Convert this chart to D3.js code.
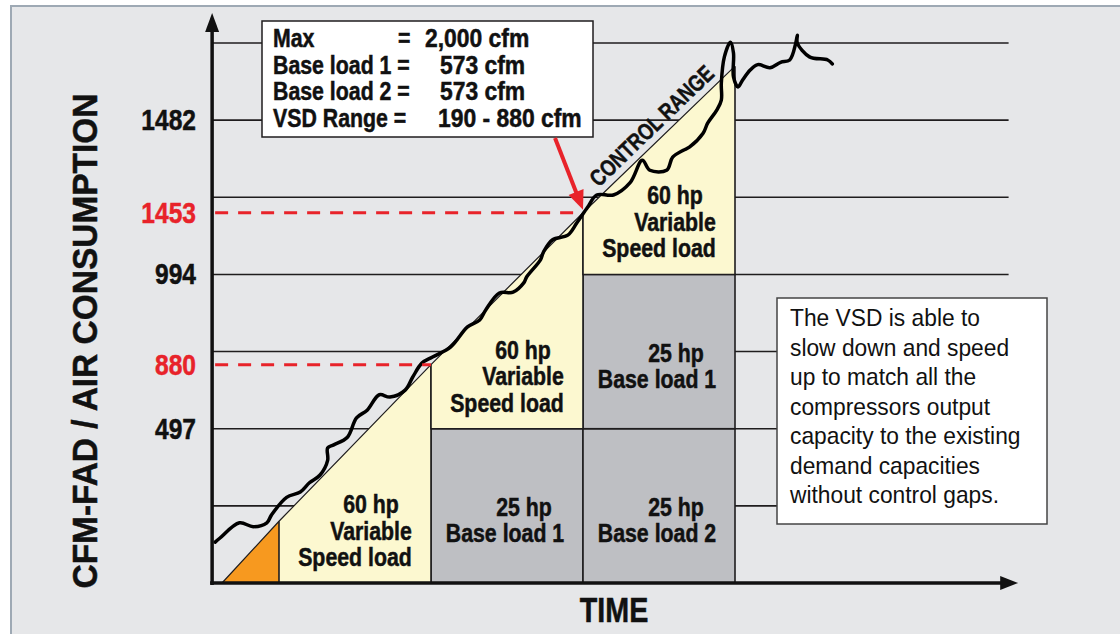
<!DOCTYPE html>
<html>
<head>
<meta charset="utf-8">
<script src="https://cdn.jsdelivr.net/npm/d3@7"></script>
<style>
  body { margin: 0; background: #fff; }
  svg text { font-family: "Liberation Sans", Arial, sans-serif; }
</style>
</head>
<body>
<svg id="chart" width="1120" height="634"></svg>
<script>
// y is measured in grid levels (the chart is schematic, labels are not to scale)
const gridLevels = [1, 2, 3, 4, 5, 6, 7];
const tickLabels = ["497", "994", "1482"];
const tickLevels = [2, 4, 6];
const markLabels = ["880", "1453"];
const markLevels = [2.83, 4.80];
const markTimes = [1, 2];

// time columns: one compressor stage per column
const baseT0 = [1, 2, 2];
const baseLo = [0, 0, 2];
const baseHi = [2, 2, 4];
const baseHp = ["25 hp", "25 hp", "25 hp"];
const baseNames = ["Base load 1", "Base load 2", "Base load 1"];

const vsdT0 = [0, 1, 2];
const vsdBottom = [0, 2, 4];
const vsdLines = ["60 hp", "Variable", "Speed load"];

// control range diagonal
const diagT = [-0.375, 0, 1, 2, 3];
const diagL = [0, 0.80, 2.83, 4.80, 6.70];

// measured air demand
const curveT = [-0.42, -0.39, -0.26, -0.17, -0.08, -0.05, 0.05, 0.14, 0.20, 0.27, 0.32, 0.32, 0.36, 0.45,
  0.51, 0.58, 0.66, 0.73, 0.83, 0.88, 0.94, 1.01, 1.13, 1.24, 1.32, 1.36, 1.45, 1.54, 1.61, 1.63, 1.72,
  1.74, 1.80, 1.90, 1.96, 2.03, 2.09, 2.20, 2.31, 2.39, 2.44, 2.55, 2.59, 2.66, 2.70, 2.79, 2.82, 2.88,
  2.91, 2.91, 2.93, 2.97, 2.99, 2.99, 3.02, 3.05, 3.10, 3.15, 3.23, 3.30, 3.36, 3.40, 3.41, 3.41, 3.49,
  3.61, 3.64];
const curveL = [0.53, 0.58, 0.78, 0.73, 0.78, 0.88, 1.11, 1.18, 1.30, 1.40, 1.59, 1.75, 1.79, 1.89,
  2.14, 2.24, 2.44, 2.41, 2.50, 2.67, 2.85, 2.93, 3.06, 3.32, 3.41, 3.54, 3.76, 3.77, 3.89, 3.97, 4.19,
  4.29, 4.45, 4.51, 4.67, 4.87, 5.03, 5.03, 5.19, 5.48, 5.35, 5.35, 5.52, 5.61, 5.65, 5.83, 5.96, 6.13,
  6.26, 6.48, 6.82, 7.01, 6.87, 6.56, 6.43, 6.52, 6.65, 6.72, 6.68, 6.75, 6.78, 7.00, 7.10, 7.00, 6.82,
  6.78, 6.73];

const infoLabels = ["Max", "Base load 1 =", "Base load 2 =", "VSD Range ="];
const infoValues = ["2,000 cfm", "573 cfm", "573 cfm", "190 - 880 cfm"];
const noteLines = ["The VSD is able to", "slow down and speed", "up to match all the",
  "compressors output", "capacity to the existing", "demand capacities", "without control gaps."];

const x = d3.scaleLinear().domain([0, 3]).range([279, 735]);
const y = d3.scaleLinear().domain([0, 7]).range([583, 43]);
const tMin = -0.44, tGrid = 4.80, tMax = 4.85;
const diag = d3.scaleLinear().domain(diagT).range(diagL);

const ink = "#1f1d1e", red = "#e8232a";
const svg = d3.select("#chart");

// condensed text: Liberation Sans squeezed horizontally
function label(px, py, s, size, opts = {}) {
  const fill = opts.fill || "#111";
  const t = svg.append("text")
    .attr("transform", `translate(${px},${py}) rotate(${opts.rotate || 0}) scale(${opts.sx || 0.82},1)`)
    .attr("text-anchor", opts.anchor || "start")
    .attr("font-size", size)
    .attr("font-weight", opts.weight || "bold")
    .attr("fill", fill)
    .text(s);
  if (!opts.weight) t.attr("stroke", fill).attr("stroke-width", 0.5);
  return t;
}

// panel
svg.append("rect").attr("x", 11).attr("y", 6).attr("width", 1109).attr("height", 628).attr("fill", "#e6e7e9");
svg.append("path").attr("d", "M11,634V6H1120").attr("fill", "none").attr("stroke", "#9ea9b4").attr("stroke-width", 2);

// grid
svg.selectAll(".grid").data(gridLevels).enter().append("line")
  .attr("x1", x(tMin)).attr("x2", x(tGrid))
  .attr("y1", d => y(d)).attr("y2", d => y(d))
  .attr("stroke", ink).attr("stroke-width", 1.6);

// base load blocks
baseT0.forEach((t0, i) => {
  svg.append("rect")
    .attr("x", x(t0)).attr("y", y(baseHi[i]))
    .attr("width", x(t0 + 1) - x(t0)).attr("height", y(baseLo[i]) - y(baseHi[i]))
    .attr("fill", "#bebfc3").attr("stroke", ink).attr("stroke-width", 1.6);
  const cx = (x(t0) + x(t0 + 1)) / 2, cy = (y(baseLo[i]) + y(baseHi[i])) / 2;
  label(cx + 17, cy + 10, baseHp[i], 26, { anchor: "middle" });
  label(cx - 2, cy + 36, baseNames[i], 26, { anchor: "middle" });
});

// orange start triangle
svg.append("path")
  .attr("d", `M${x(diagT[0])},${y(0)}L${x(0)},${y(0)}L${x(0)},${y(diag(0))}Z`)
  .attr("fill", "#f7991f");

// variable speed blocks
vsdT0.forEach((t0, i) => {
  const t1 = t0 + 1, b = vsdBottom[i];
  svg.append("path")
    .attr("d", `M${x(t0)},${y(diag(t0))}L${x(t0)},${y(b)}L${x(t1)},${y(b)}L${x(t1)},${y(diag(t1))}Z`)
    .attr("fill", "#fcf8d0");
  svg.append("path")
    .attr("d", `M${x(t0)},${y(diag(t0))}V${y(b)}H${x(t1)}V${y(diag(t1))}`)
    .attr("fill", "none").attr("stroke", ink).attr("stroke-width", 1.6);
  const cx = (x(t0) + x(t1)) / 2, base = y(b) - 17;
  vsdLines.forEach((s, j) => {
    label(cx + (j < 2 ? 16 : 0), base - (2 - j) * 26.5, s, 26, { anchor: "middle" });
  });
});

// control range diagonal
svg.append("path")
  .attr("d", d3.line().x(d => x(d)).y(d => y(diag(d)))(diagT))
  .attr("fill", "none").attr("stroke", ink).attr("stroke-width", 1.2);

const tc = 2.52;
const ang = Math.atan2(y(diag(3)) - y(diag(2)), x(3) - x(2)) * 180 / Math.PI;
const nx = Math.sin(ang * Math.PI / 180) * 7, ny = -Math.cos(ang * Math.PI / 180) * 7;
label(x(tc) + nx, y(diag(tc)) + ny, "CONTROL RANGE", 23, { anchor: "middle", rotate: ang, sx: 0.8 });

// demand curve
svg.append("path")
  .attr("d", d3.line().x((d, i) => x(curveT[i])).y(d => y(d)).curve(d3.curveCatmullRom.alpha(0.5))(curveL))
  .attr("fill", "none").attr("stroke", "#000").attr("stroke-width", 3.5)
  .attr("stroke-linejoin", "round").attr("stroke-linecap", "round");

// red dashed levels
markLevels.forEach((l, i) => {
  svg.append("line").attr("x1", x(tMin) + 3).attr("x2", x(markTimes[i]))
    .attr("y1", y(l)).attr("y2", y(l))
    .attr("stroke", red).attr("stroke-width", 3).attr("stroke-dasharray", "13,10");
});

// axes
const ax = x(tMin), ay = y(0);
svg.append("line").attr("x1", ax).attr("x2", ax).attr("y1", ay + 2).attr("y2", 28)
  .attr("stroke", "#111").attr("stroke-width", 3.5);
svg.append("path").attr("d", `M${ax},13L${ax - 7},32L${ax + 7},32Z`).attr("fill", "#111");
svg.append("line").attr("x1", ax - 2).attr("x2", x(tMax) - 14).attr("y1", ay).attr("y2", ay)
  .attr("stroke", "#111").attr("stroke-width", 3.5);
svg.append("path").attr("d", `M${x(tMax) + 2},${ay}L${x(tMax) - 16},${ay - 7}L${x(tMax) - 16},${ay + 7}Z`).attr("fill", "#111");

// tick labels
tickLevels.forEach((l, i) => label(196, y(l) + 10, tickLabels[i], 30, { anchor: "end" }));
markLevels.forEach((l, i) => label(196, y(l) + 10, markLabels[i], 30, { anchor: "end", fill: red }));

// axis titles
svg.append("text").attr("transform", "translate(97,341) rotate(-90)").attr("text-anchor", "middle")
  .attr("font-size", 35).attr("font-weight", "bold").attr("fill", "#111")
  .attr("stroke", "#111").attr("stroke-width", 0.5)
  .attr("textLength", 495).attr("lengthAdjust", "spacingAndGlyphs")
  .text("CFM-FAD / AIR CONSUMPTION");
label(614, 622, "TIME", 35, { anchor: "middle" });

// info box
svg.append("rect").attr("x", 262).attr("y", 21).attr("width", 331).attr("height", 116)
  .attr("fill", "#fff").attr("stroke", ink).attr("stroke-width", 1.5);
const valueX = [425, 440, 440, 438];
infoLabels.forEach((s, i) => {
  const by = 47 + i * 26.6;
  label(273, by, s, 26);
  if (i === 0) label(398, by, "=", 26);
  label(valueX[i], by, infoValues[i], 26, { sx: 0.88 });
});

// red pointer to the 1453 point
const tipX = x(markTimes[1]), tipY = y(markLevels[1]) - 3;
const sx = 555, sy = 138;
const len = Math.hypot(tipX - sx, tipY - sy), ux = (tipX - sx) / len, uy = (tipY - sy) / len;
svg.append("line").attr("x1", sx).attr("y1", sy).attr("x2", tipX - ux * 14).attr("y2", tipY - uy * 14)
  .attr("stroke", red).attr("stroke-width", 4);
svg.append("path")
  .attr("d", `M${tipX},${tipY}L${tipX - ux * 19 - uy * 8},${tipY - uy * 19 + ux * 8}L${tipX - ux * 19 + uy * 8},${tipY - uy * 19 - ux * 8}Z`)
  .attr("fill", red);

// note box
svg.append("rect").attr("x", 777).attr("y", 298).attr("width", 270).attr("height", 226)
  .attr("fill", "#fff").attr("stroke", "#444").attr("stroke-width", 1.5);
noteLines.forEach((s, i) => label(790, 326 + i * 29.5, s, 24, { weight: "normal", sx: 0.95 }));
</script>
</body>
</html>
